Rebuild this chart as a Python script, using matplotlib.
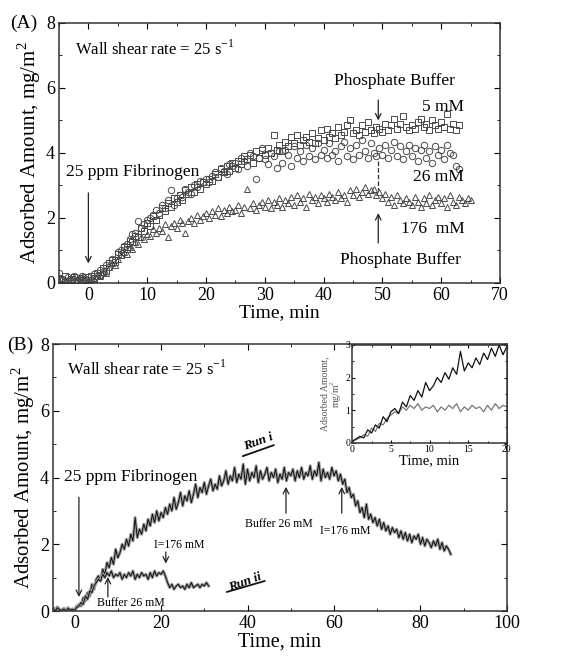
import numpy as np
import matplotlib
matplotlib.use("Agg")
import matplotlib.pyplot as plt
from matplotlib.ticker import MultipleLocator

plt.rcParams['font.family'] = ['Liberation Serif', 'DejaVu Serif']
plt.rcParams['mathtext.fontset'] = 'custom'
plt.rcParams['mathtext.rm'] = 'Liberation Serif'

# ---- Panel A: adsorbed amount vs time, three buffer concentrations ----
t_a_start, t_a_step = -5.0, 0.5
sq_5mM = [
    0.15, 0.08, 0.20, 0.05, 0.12, 0.18, 0.06, 0.14, 0.09, 0.17,
    0.10, 0.22, 0.15, 0.30, 0.25, 0.45, 0.38, 0.60, 0.72, 0.65,
    0.90, 0.85, 1.10, 1.05, 1.30, 1.25, 1.45, 1.40, 1.70, 1.60,
    1.85, 1.75, 2.05, 1.95, 2.10, 2.30, 2.20, 2.45, 2.35, 2.60,
    2.50, 2.70, 2.55, 2.85, 2.75, 2.95, 2.80, 3.05, 2.90, 3.10,
    3.05, 3.20, 3.15, 3.35, 3.25, 3.50, 3.40, 3.60, 3.45, 3.70,
    3.55, 3.75, 3.65, 3.90, 3.80, 3.95, 3.70, 4.05, 3.85, 4.10,
    3.95, 4.15, 4.00, 4.55, 4.10, 4.25, 4.05, 4.35, 4.20, 4.50,
    4.30, 4.55, 4.25, 4.40, 4.50, 4.35, 4.60, 4.30, 4.45, 4.70,
    4.40, 4.75, 4.50, 4.60, 4.45, 4.80, 4.55, 4.65, 4.85, 5.00,
    4.60, 4.70, 4.55, 4.85, 4.65, 4.95, 4.70, 4.60, 4.80, 4.75,
    4.65, 4.90, 4.70, 4.85, 5.05, 4.75, 4.90, 5.15, 4.80, 4.70,
    4.85, 4.75, 4.95, 5.05, 4.80, 4.90, 4.70, 5.00, 4.85, 4.75,
    4.95, 4.80, 5.20, 4.75, 4.90, 4.70, 4.85,
]
ci_26mM = [
    0.30, 0.12, 0.05, 0.18, 0.10, 0.22, 0.08, 0.15, 0.20, 0.12,
    0.18, 0.10, 0.28, 0.20, 0.40, 0.35, 0.55, 0.50, 0.75, 0.70,
    0.95, 1.00, 1.15, 1.20, 1.35, 1.50, 1.55, 1.90, 1.70, 1.80,
    1.95, 2.00, 2.10, 2.25, 2.15, 2.40, 2.30, 2.55, 2.85, 2.40,
    2.60, 2.70, 2.65, 2.90, 2.80, 2.75, 3.00, 2.95, 3.15, 3.10,
    3.20, 3.10, 3.30, 3.40, 3.25, 3.55, 3.45, 3.35, 3.65, 3.60,
    3.70, 3.50, 3.85, 3.75, 3.60, 4.00, 3.90, 3.20, 3.85, 4.15,
    3.80, 3.65, 4.00, 3.90, 3.55, 4.05, 3.70, 4.10, 3.95, 3.60,
    4.20, 3.85, 4.05, 3.75, 4.25, 3.90, 4.15, 3.80, 4.30, 3.95,
    4.10, 3.85, 4.30, 3.95, 4.05, 3.75, 4.20, 4.35, 3.90, 4.15,
    3.80, 4.25, 3.95, 4.40, 4.05, 3.85, 4.30, 4.00, 3.90, 4.15,
    3.95, 4.25, 3.85, 4.10, 4.35, 3.90, 4.20, 3.80, 4.05, 4.25,
    3.90, 4.15, 3.75, 4.10, 4.25, 3.85, 4.05, 3.70, 4.20, 3.95,
    4.10, 3.80, 4.25, 4.00, 3.95, 3.60, 3.50,
]
tr_176mM = [
    0.10, 0.15, 0.08, 0.12, 0.05, 0.18, 0.10, 0.14, 0.07, 0.12,
    0.10, 0.15, 0.12, 0.22, 0.20, 0.35, 0.30, 0.50, 0.60, 0.55,
    0.75, 0.85, 0.95, 0.90, 1.10, 1.05, 1.25, 1.20, 1.40, 1.35,
    1.50, 1.45, 1.65, 1.55, 1.70, 1.60, 1.80, 1.40, 1.75, 1.85,
    1.70, 1.95, 1.85, 1.55, 1.90, 2.00, 1.85, 2.10, 1.95, 2.05,
    2.15, 2.00, 2.20, 2.10, 2.30, 2.05, 2.25, 2.15, 2.35, 2.20,
    2.25, 2.40, 2.15, 2.35, 2.90, 2.30, 2.45, 2.25, 2.40, 2.50,
    2.35, 2.55, 2.30, 2.50, 2.40, 2.60, 2.35, 2.55, 2.45, 2.65,
    2.40, 2.70, 2.50, 2.60, 2.35, 2.75, 2.55, 2.65, 2.45, 2.70,
    2.60, 2.50, 2.75, 2.65, 2.55, 2.80, 2.60, 2.70, 2.50, 2.85,
    2.70, 2.90, 2.65, 2.80, 2.95, 2.75, 2.85, 2.90, 2.70, 2.80,
    2.60, 2.75, 2.50, 2.65, 2.40, 2.70, 2.55, 2.45, 2.60, 2.50,
    2.40, 2.65, 2.50, 2.35, 2.60, 2.45, 2.70, 2.40, 2.55, 2.65,
    2.45, 2.60, 2.35, 2.70, 2.50, 2.40, 2.65, 2.55, 2.45, 2.60,
    2.55,
]

# ---- Panel B: two runs with buffer changes ----
t_b_start, t_b_step = -5.0, 0.5
run_i = [
    0.10, 0.02, 0.12, 0.05, 0.00, 0.08, 0.03, 0.10, 0.00, 0.06,
    0.05, 0.12, 0.20, 0.15, 0.40, 0.30, 0.55, 0.45, 0.80, 0.65,
    0.95, 1.05, 0.90, 1.25, 1.10, 1.45, 1.30, 1.60, 1.40, 1.85,
    1.60, 1.75, 2.00, 1.85, 2.15, 1.95, 2.30, 2.10, 2.80, 2.20,
    2.45, 2.30, 2.60, 2.40, 2.75, 2.55, 2.90, 2.65, 3.00, 2.70,
    2.95, 2.80, 3.10, 2.90, 3.20, 3.00, 3.40, 3.05, 3.25, 3.55,
    3.15, 3.45, 3.30, 3.60, 3.25, 3.50, 3.80, 3.40, 3.70, 3.55,
    3.85, 3.50, 3.75, 3.95, 3.60, 3.80, 3.65, 4.05, 3.75, 3.90,
    4.20, 3.80, 4.05, 3.90, 4.30, 3.85, 4.10, 3.95, 4.40, 3.80,
    4.25, 3.90, 4.15, 4.00, 4.35, 3.85, 4.20, 3.95, 4.10, 4.30,
    3.90, 4.15, 4.00, 4.25, 3.85, 4.10, 3.95, 4.30, 3.90, 4.15,
    4.05, 4.25, 3.90, 4.20, 4.00, 4.30, 3.95, 4.15, 4.05, 4.35,
    3.95, 4.20, 4.05, 4.45, 3.90, 4.25, 4.00, 4.15, 3.95, 4.30,
    4.05, 4.20, 3.90, 4.10, 3.80, 3.95, 3.55, 3.70, 3.40, 3.50,
    3.15, 3.30, 2.95, 3.10, 2.80, 3.20, 2.75, 2.90, 2.65, 2.80,
    2.55, 2.75, 2.45, 2.65, 2.40, 2.55, 2.30, 2.50, 2.35, 2.45,
    2.20, 2.40, 2.15, 2.35, 2.10, 2.30, 2.05, 2.25, 2.15, 2.30,
    2.00, 2.20, 1.95, 2.15, 2.05, 1.90, 2.10, 1.95, 2.15, 1.85,
    2.05, 1.80, 1.95, 1.85, 1.70,
]
run_ii = [
    0.08, 0.00, 0.10, 0.04, 0.02, 0.06, 0.00, 0.08, 0.03, 0.05,
    0.02, 0.10, 0.15, 0.25, 0.20, 0.45, 0.35, 0.60, 0.55, 0.75,
    0.85, 0.95, 0.90, 1.10, 1.00, 1.15, 1.05, 1.20, 1.00, 1.10,
    1.05, 1.15, 0.95, 1.10, 1.00, 1.15, 1.05, 1.20, 0.95, 1.10,
    1.00, 1.15, 1.05, 1.10, 0.95, 1.15, 1.00, 1.20, 1.05, 1.15,
    1.10, 1.20, 1.05, 0.85, 0.70, 0.80, 0.65, 0.75, 0.80, 0.70,
    0.75, 0.65, 0.80, 0.70, 0.85, 0.70, 0.75, 0.80, 0.70, 0.80,
    0.75, 0.85, 0.75,
]


def time_axis(start, step, values):
    return start + step * np.arange(len(values))


def style_axes(ax, xmaj, xmin, ymaj, ymin, size=13):
    ax.xaxis.set_major_locator(MultipleLocator(xmaj))
    ax.xaxis.set_minor_locator(MultipleLocator(xmin))
    ax.yaxis.set_major_locator(MultipleLocator(ymaj))
    ax.yaxis.set_minor_locator(MultipleLocator(ymin))
    ax.tick_params(which='both', direction='in', top=True, right=True,
                   labelsize=size, pad=3)
    ax.tick_params(which='major', length=4)
    ax.tick_params(which='minor', length=2.5)
    for s in ax.spines.values():
        s.set_linewidth(1.1)
        s.set_color('#333333')


def arrow(ax, x, y0, y1, lw=0.9):
    ax.annotate('', xy=(x, y1), xytext=(x, y0),
                arrowprops=dict(arrowstyle='->', lw=lw, color='#222222',
                                shrinkA=0, shrinkB=0))


def underline(ax, p0, p1):
    ax.annotate('', xy=p1, xytext=p0,
                arrowprops=dict(arrowstyle='-', lw=1.3, color='#111111',
                                shrinkA=0, shrinkB=0))


fig = plt.figure(figsize=(5.88, 6.57), dpi=100)

# ---------------- Panel A ----------------
axA = fig.add_axes([0.1003, 0.5693, 0.75, 0.3957])
mk = dict(linestyle='none', markerfacecolor='none', markeredgecolor='#4a4a4a',
          markeredgewidth=0.7, markersize=4.6)
axA.plot(time_axis(t_a_start, t_a_step, sq_5mM), sq_5mM, marker='s', **mk)
axA.plot(time_axis(t_a_start, t_a_step, ci_26mM), ci_26mM, marker='o', **mk)
axA.plot(time_axis(t_a_start, t_a_step, tr_176mM), tr_176mM, marker='^', **mk)
axA.set_xlim(-5, 70)
axA.set_ylim(0, 8)
style_axes(axA, 10, 5, 2, 1)
axA.set_xlabel('Time, min', fontsize=14, labelpad=0)
axA.set_ylabel('Adsorbed Amount, mg/m$^2$', fontsize=15, labelpad=2)

axA.text(-2.3, 7.2, 'Wall shear rate = 25 s$^{-1}$', fontsize=12, va='center')
axA.text(-3.8, 3.42, '25 ppm Fibrinogen', fontsize=12.5, va='center')
arrow(axA, 0, 2.77, 0.6)
axA.text(52, 6.22, 'Phosphate Buffer', fontsize=12.5, ha='center', va='center')
arrow(axA, 49.3, 5.63, 5.0)
axA.text(63.9, 5.42, '5 mM', fontsize=12.5, ha='right', va='center')
axA.text(63.9, 3.27, '26 mM', fontsize=12.5, ha='right', va='center')
axA.text(64.0, 1.65, '176  mM', fontsize=12.5, ha='right', va='center')
axA.plot([49.3, 49.3], [3.75, 2.85], ls='--', lw=0.9, color='#333333')
arrow(axA, 49.3, 1.23, 2.15)
axA.text(53, 0.71, 'Phosphate Buffer', fontsize=12.5, ha='center', va='center')
fig.text(0.017, 0.965, '(A)', fontsize=14, va='center')

# ---------------- Panel B ----------------
axB = fig.add_axes([0.0901, 0.07, 0.772, 0.4064])
ti = time_axis(t_b_start, t_b_step, run_i)
tii = time_axis(t_b_start, t_b_step, run_ii)
for t, y in ((ti, run_i), (tii, run_ii)):
    axB.plot(t, y, color='#9a9a9a', lw=2.2, solid_joinstyle='round')
    axB.plot(t, y, color='#111111', lw=0.7)
axB.set_xlim(-5, 100)
axB.set_ylim(0, 8)
style_axes(axB, 20, 10, 2, 1)
axB.set_xlabel('Time, min', fontsize=14.5, labelpad=0)
axB.set_ylabel('Adsorbed Amount, mg/m$^2$', fontsize=15, labelpad=2)

axB.text(-1.8, 7.25, 'Wall shear rate = 25 s$^{-1}$', fontsize=12, va='center')
axB.text(-2.5, 4.01, '25 ppm Fibrinogen', fontsize=12.5, va='center')
arrow(axB, 1.0, 3.41, 0.42)
axB.text(42.4, 5.06, 'Run i', fontsize=9.5, fontweight='bold', fontstyle='italic',
         rotation=20, ha='center', va='center')
underline(axB, (38.9, 4.64), (46.1, 4.97))
axB.text(39.4, 0.87, 'Run ii', fontsize=9.5, fontweight='bold', fontstyle='italic',
         rotation=20, ha='center', va='center')
underline(axB, (35.2, 0.57), (44.0, 0.90))
axB.text(24.1, 1.98, 'I=176 mM', fontsize=8.5, ha='center', va='center')
arrow(axB, 21.1, 1.77, 1.42)
axB.text(13.0, 0.24, 'Buffer 26 mM', fontsize=8.5, ha='center', va='center')
arrow(axB, 7.7, 0.42, 1.02)
axB.text(47.3, 2.6, 'Buffer 26 mM', fontsize=8.5, ha='center', va='center')
arrow(axB, 48.9, 2.93, 3.72)
axB.text(62.6, 2.4, 'I=176 mM', fontsize=8.5, ha='center', va='center')
arrow(axB, 61.8, 2.93, 3.72)
fig.text(0.012, 0.475, '(B)', fontsize=14, va='center')

# ---------------- Inset ----------------
axI = fig.add_axes([0.599, 0.326, 0.263, 0.149])
axI.plot(tii, run_ii, color='#777777', lw=0.9)
axI.plot(ti, run_i, color='#111111', lw=0.9)
axI.set_xlim(0, 20)
axI.set_ylim(0, 3)
style_axes(axI, 5, 2.5, 1, 0.5, size=7)
axI.tick_params(which='major', length=2.5, pad=1.5)
axI.tick_params(which='minor', length=1.5)
axI.set_xlabel('Time, min', fontsize=10.5, labelpad=0)
axI.set_ylabel('Adsorbed Amount,\nmg/m$^2$', fontsize=7, color='#555555',
               labelpad=1, linespacing=0.95)

fig.savefig('out.png', dpi=100)
